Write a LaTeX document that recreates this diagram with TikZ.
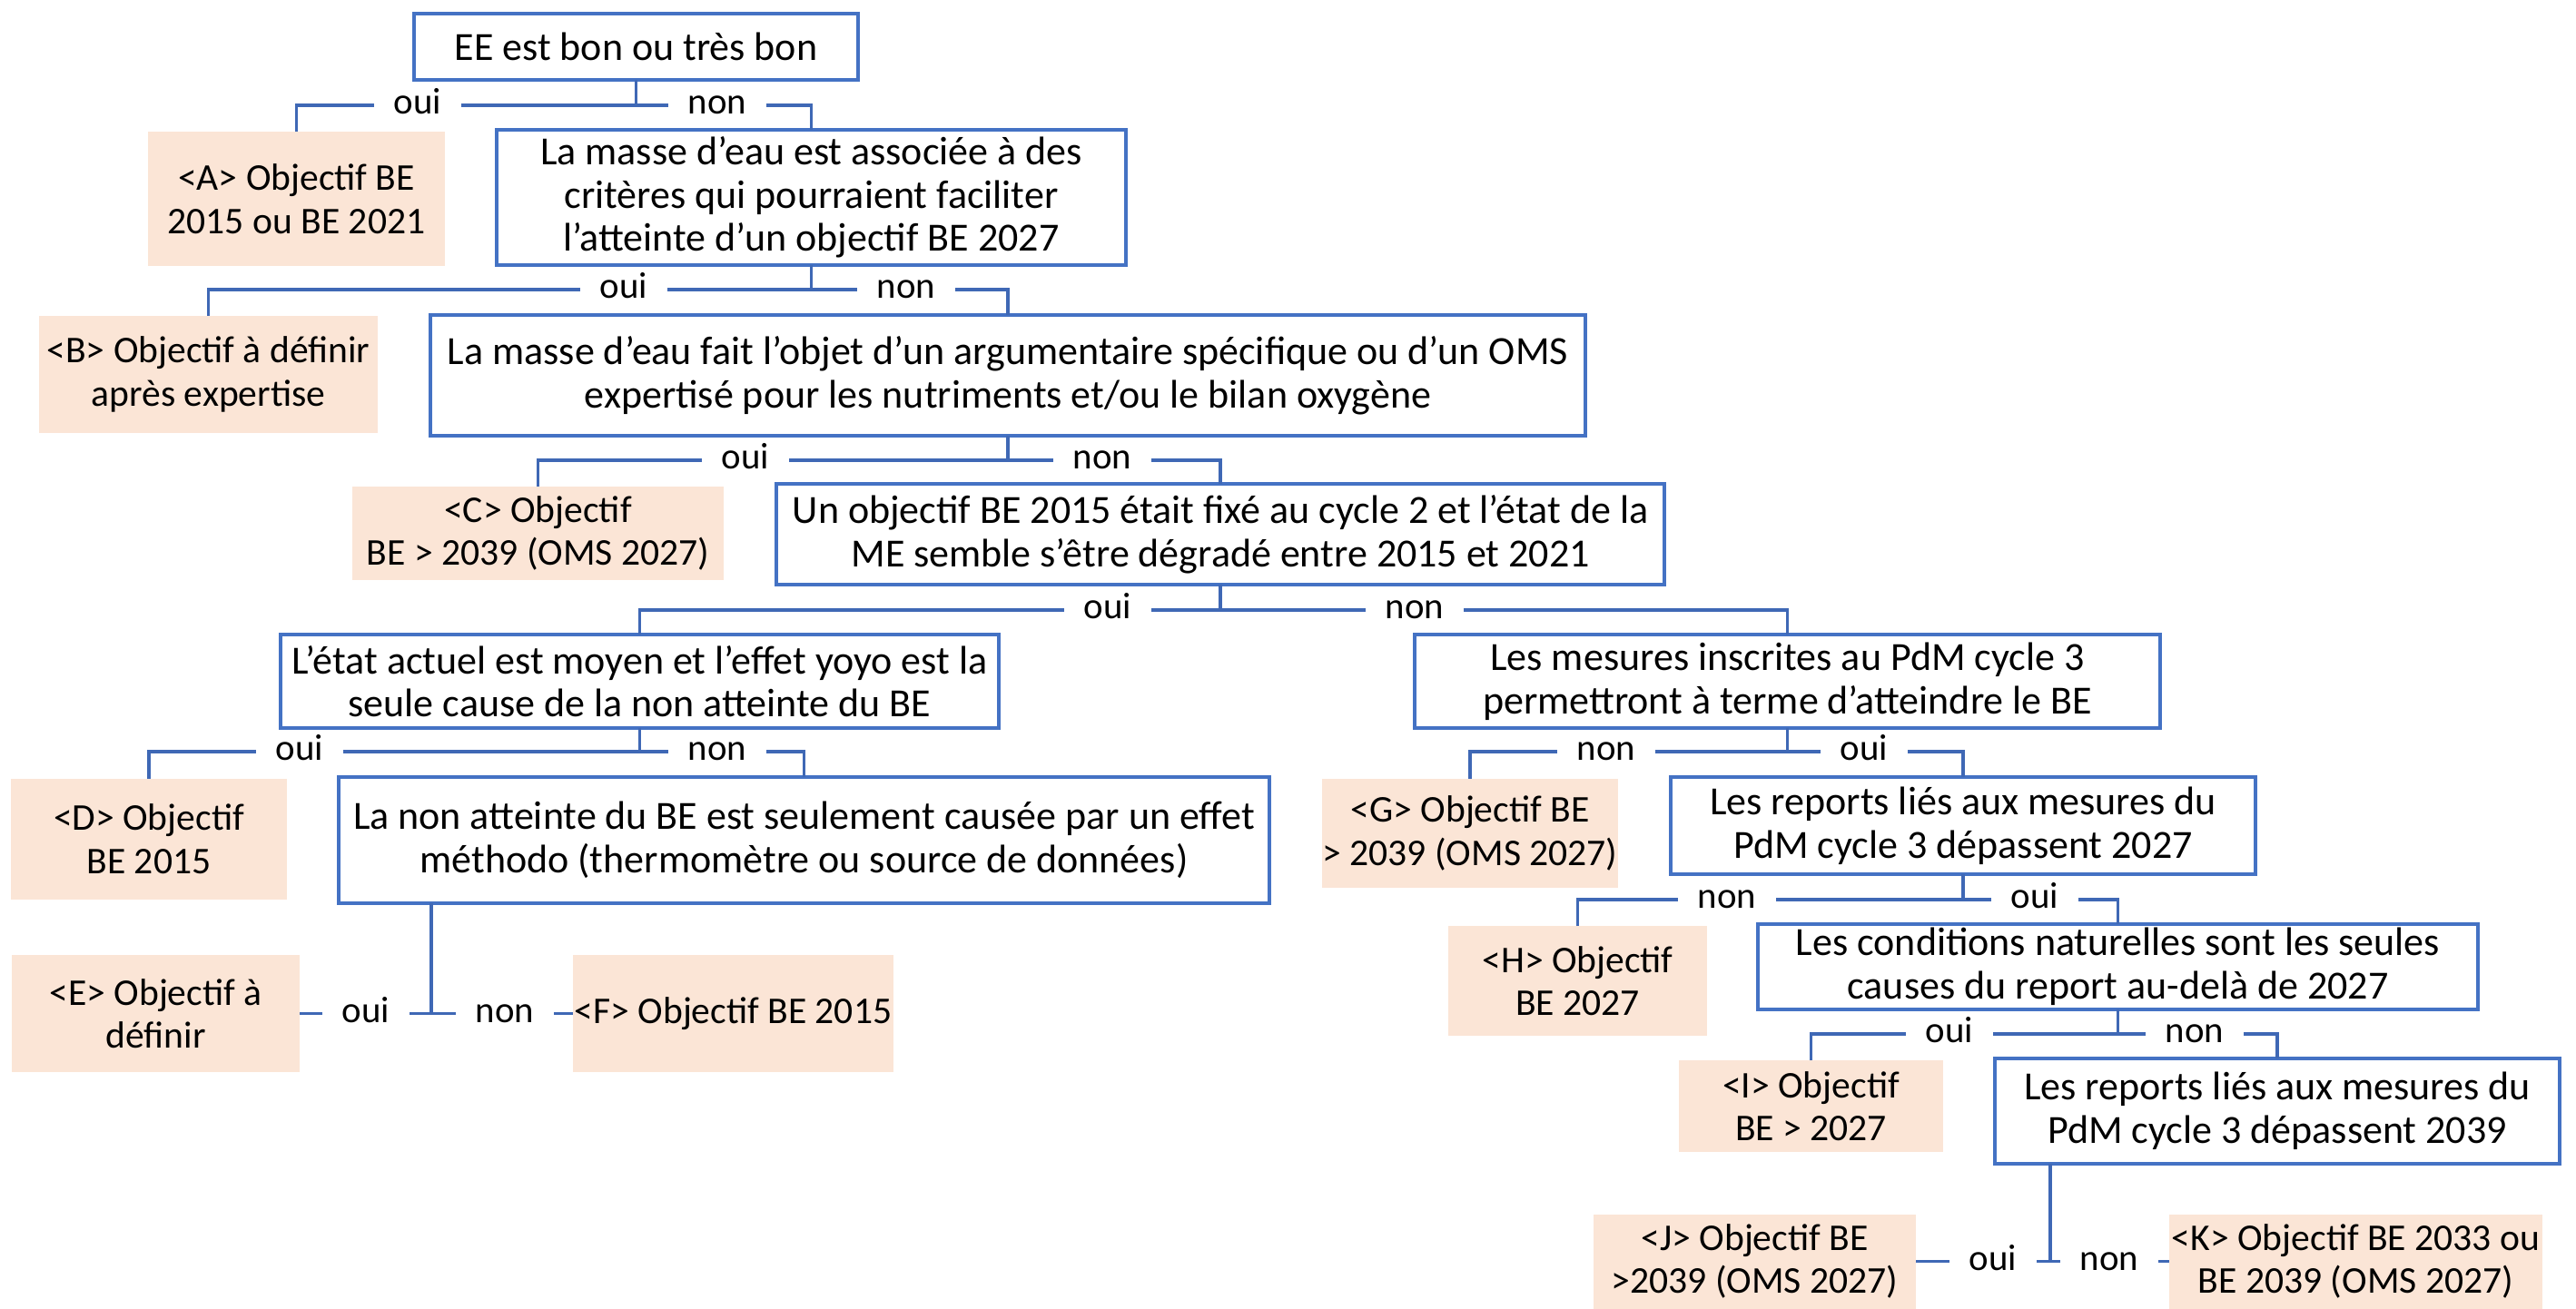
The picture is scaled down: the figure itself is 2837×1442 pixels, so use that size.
\documentclass[tikz,border=0pt]{standalone}
\usepackage{fontspec}
\setmainfont{Carlito}
\definecolor{boxblue}{HTML}{4472C4}
\definecolor{lineblue}{HTML}{3F68B5}
\definecolor{resfill}{HTML}{FBE5D6}
\tikzset{
  sz/.style 2 args={minimum width=#1*0.25pt, minimum height=#2*0.25pt},
  qbox/.style={draw=boxblue, line width=0.9pt, fill=white, inner sep=0pt, outer sep=0pt, align=center, font=\fontsize{11pt}{11.9pt}\selectfont},
  rbox/.style={fill=resfill, inner sep=0pt, outer sep=0pt, align=center, font=\fontsize{10.4pt}{11.9pt}\selectfont},
  conn/.style={draw=lineblue, line width=0.8pt},
  lab/.style={fill=white, inner xsep=5.5pt, inner ysep=0pt, text height=1ex, text depth=0pt, outer sep=0pt, font=\fontsize{10.2pt}{11.9pt}\selectfont}
}
\begin{document}
\begin{tikzpicture}[x=0.25pt, y=-0.25pt]
\useasboundingbox (0,0) rectangle (2837,1442);
% decision boxes
\node[qbox, sz={489}{73}] (q1) at (700.5,51.5) {EE est bon ou très bon};
\node[qbox, sz={693}{149}] (q2) at (893.5,217.5) {La masse d’eau est associée à des\\critères qui pourraient faciliter\\l’atteinte d’un objectif BE 2027};
\node[qbox, sz={1272}{133}] (q3) at (1110,413.5) {La masse d’eau fait l’objet d’un argumentaire spécifique ou d’un OMS\\expertisé pour les nutriments et/ou le bilan oxygène};
\node[qbox, sz={978}{111}] (q4) at (1344,588.5) {Un objectif BE 2015 était fixé au cycle 2 et l’état de la\\ME semble s’être dégradé entre 2015 et 2021};
\node[qbox, sz={791}{103}] (q5) at (704.5,750.5) {L’état actuel est moyen et l’effet yoyo est la\\seule cause de la non atteinte du BE};
\node[qbox, sz={821}{103}] (q6) at (1968.5,750.5) {Les mesures inscrites au PdM cycle 3\\permettront à terme d’atteindre le BE};
\node[qbox, sz={1025}{139}] (q7) at (885.5,925.5) {La non atteinte du BE est seulement causée par un effet\\méthodo (thermomètre ou source de données)};
\node[qbox, sz={644}{107}] (q8) at (2162,909.5) {Les reports liés aux mesures du\\PdM cycle 3 dépassent 2027};
\node[qbox, sz={793}{94}] (q9) at (2332.5,1065) {Les conditions naturelles sont les seules\\causes du report au-delà de 2027};
\node[qbox, sz={622}{116}] (q10) at (2508,1224) {Les reports liés aux mesures du\\PdM cycle 3 dépassent 2039};
% result boxes
\node[rbox, sz={327}{148}] (A) at (326.5,219) {<A> Objectif BE\\2015 ou BE 2021};
\node[rbox, sz={373}{129}] (B) at (229.5,412.5) {<B> Objectif à définir\\après expertise};
\node[rbox, sz={409}{103}] (C) at (592.5,587.5) {<C> Objectif\\BE > 2039 (OMS 2027)};
\node[rbox, sz={304}{133}] (D) at (164,924.5) {<D> Objectif\\BE 2015};
\node[rbox, sz={317}{129}] (E) at (171.5,1116.5) {<E> Objectif à\\définir};
\node[rbox, sz={353}{129}] (F) at (807.5,1116.5) {<F> Objectif BE 2015};
\node[rbox, sz={324}{120}] (G) at (1619,918) {<G> Objectif BE\\> 2039 (OMS 2027)};
\node[rbox, sz={285}{121}] (H) at (1737.5,1080.5) {<H> Objectif\\BE 2027};
\node[rbox, sz={291}{101}] (I) at (1994.5,1218.5) {<I> Objectif\\BE > 2027};
\node[rbox, sz={355}{104}] (J) at (1932.5,1389.5) {<J> Objectif BE\\>2039 (OMS 2027)};
\node[rbox, sz={411}{104}] (K) at (2594.5,1389.5) {<K> Objectif BE 2033 ou\\BE 2039 (OMS 2027)};
% junctions
\coordinate (j1) at (700.5,116);
\coordinate (j2) at (893.5,319);
\coordinate (j3) at (1110,507);
\coordinate (j4) at (1344,672);
\coordinate (j5) at (704.5,828);
\coordinate (j6) at (1968.5,828);
\coordinate (j7) at (2162,991);
\coordinate (j8) at (2332.5,1139);
\coordinate (j9) at (475,1116.5);
\coordinate (j10) at (2258,1389.5);
% connectors
\draw[conn] (q1.south) -- (j1);
\draw[conn] (A.north) |- (j1) -| (q2.north);
\draw[conn] (q2.south) -- (j2);
\draw[conn] (B.north) |- (j2) -| (q3.north);
\draw[conn] (q3.south) -- (j3);
\draw[conn] (C.north) |- (j3) -| (q4.north);
\draw[conn] (q4.south) -- (j4);
\draw[conn] (q5.north) |- (j4) -| (q6.north);
\draw[conn] (q5.south) -- (j5);
\draw[conn] (D.north) |- (j5) -| (q7.north);
\draw[conn] (q6.south) -- (j6);
\draw[conn] (G.north) |- (j6) -| (q8.north);
\draw[conn] (q8.south) -- (j7);
\draw[conn] (H.north) |- (j7) -| (q9.north);
\draw[conn] (q9.south) -- (j8);
\draw[conn] (I.north) |- (j8) -| (q10.north);
\draw[conn] (j9 |- q7.south) -- (j9);
\draw[conn] (E.east) -- (F.west);
\draw[conn] (j10 |- q10.south) -- (j10);
\draw[conn] (J.east) -- (K.west);
% labels
\node[lab] (l1o) at (460,116) {oui};
\node[lab] (l1n) at (790,116) {non};
\node[lab] (l2o) at (687,319) {oui};
\node[lab] (l2n) at (998,319) {non};
\node[lab] (l3o) at (821,507) {oui};
\node[lab] (l3n) at (1214,507) {non};
\node[lab] (l4o) at (1220,672) {oui};
\node[lab] (l4n) at (1558,672) {non};
\node[lab] (l5o) at (330,828) {oui};
\node[lab] (l5n) at (790,828) {non};
\node[lab] (l6n) at (1769,828) {non};
\node[lab] (l6o) at (2053,828) {oui};
\node[lab] (l7n) at (1902,991) {non};
\node[lab] (l7o) at (2241,991) {oui};
\node[lab] (l8o) at (2147,1139) {oui};
\node[lab] (l8n) at (2417,1139) {non};
\node[lab] (l9o) at (403,1116.5) {oui};
\node[lab] (l9n) at (556,1116.5) {non};
\node[lab] (l10o) at (2195,1389.5) {oui};
\node[lab] (l10n) at (2323,1389.5) {non};
\end{tikzpicture}
\end{document}
